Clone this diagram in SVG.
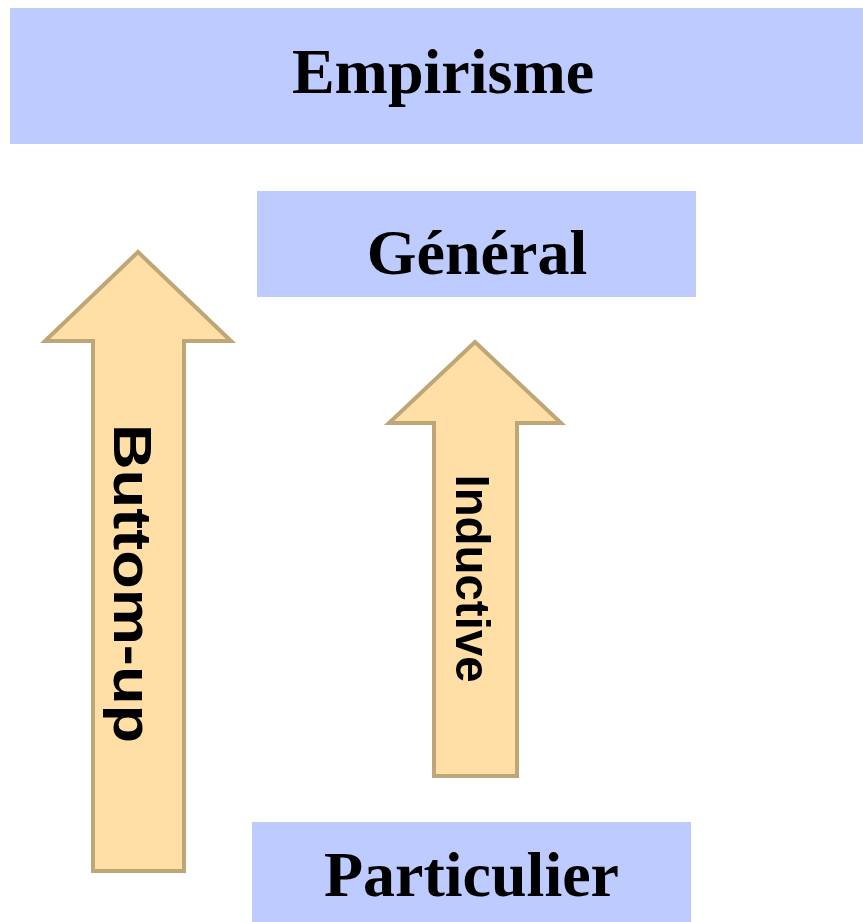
<svg xmlns="http://www.w3.org/2000/svg" width="863" height="922" viewBox="0 0 863 922">
<style>
.box{fill:#bdcbfe;}
.title{font-family:"Liberation Serif","Times New Roman",serif;font-weight:bold;font-size:64px;fill:#000;text-anchor:middle;}
.arrow{fill:#ffdfa6;stroke:#bfa677;stroke-width:4;stroke-linejoin:miter;}
.lbl{font-family:"Liberation Sans",Arial,sans-serif;font-weight:bold;fill:#000;text-anchor:middle;}
</style>
<rect width="863" height="922" fill="#ffffff"/>
<g id="empirisme">
<rect class="box" x="10" y="8" width="853" height="136"/>
<text class="title" x="443" y="93">Empirisme</text>
</g>
<g id="general">
<rect class="box" x="257" y="191" width="439" height="106"/>
<text class="title" x="477" y="274">Général</text>
</g>
<g id="particulier">
<rect class="box" x="252" y="822" width="439" height="100"/>
<text class="title" x="471.5" y="896">Particulier</text>
</g>
<g id="connectors">
<g id="buttom-up">
<polygon class="arrow" points="138,252 231,341 184,341 184,871 93,871 93,341 45,341"/>
<text class="lbl" font-size="54" textLength="319" lengthAdjust="spacingAndGlyphs" transform="translate(114,583.5) rotate(90)">Buttom-up</text>
</g>
<g id="inductive">
<polygon class="arrow" points="475,342 561,423 517,423 517,776 434,776 434,423 389,423"/>
<text class="lbl" font-size="49" textLength="208" lengthAdjust="spacingAndGlyphs" transform="translate(456,578.5) rotate(90)">Inductive</text>
</g>
</g>
</svg>
